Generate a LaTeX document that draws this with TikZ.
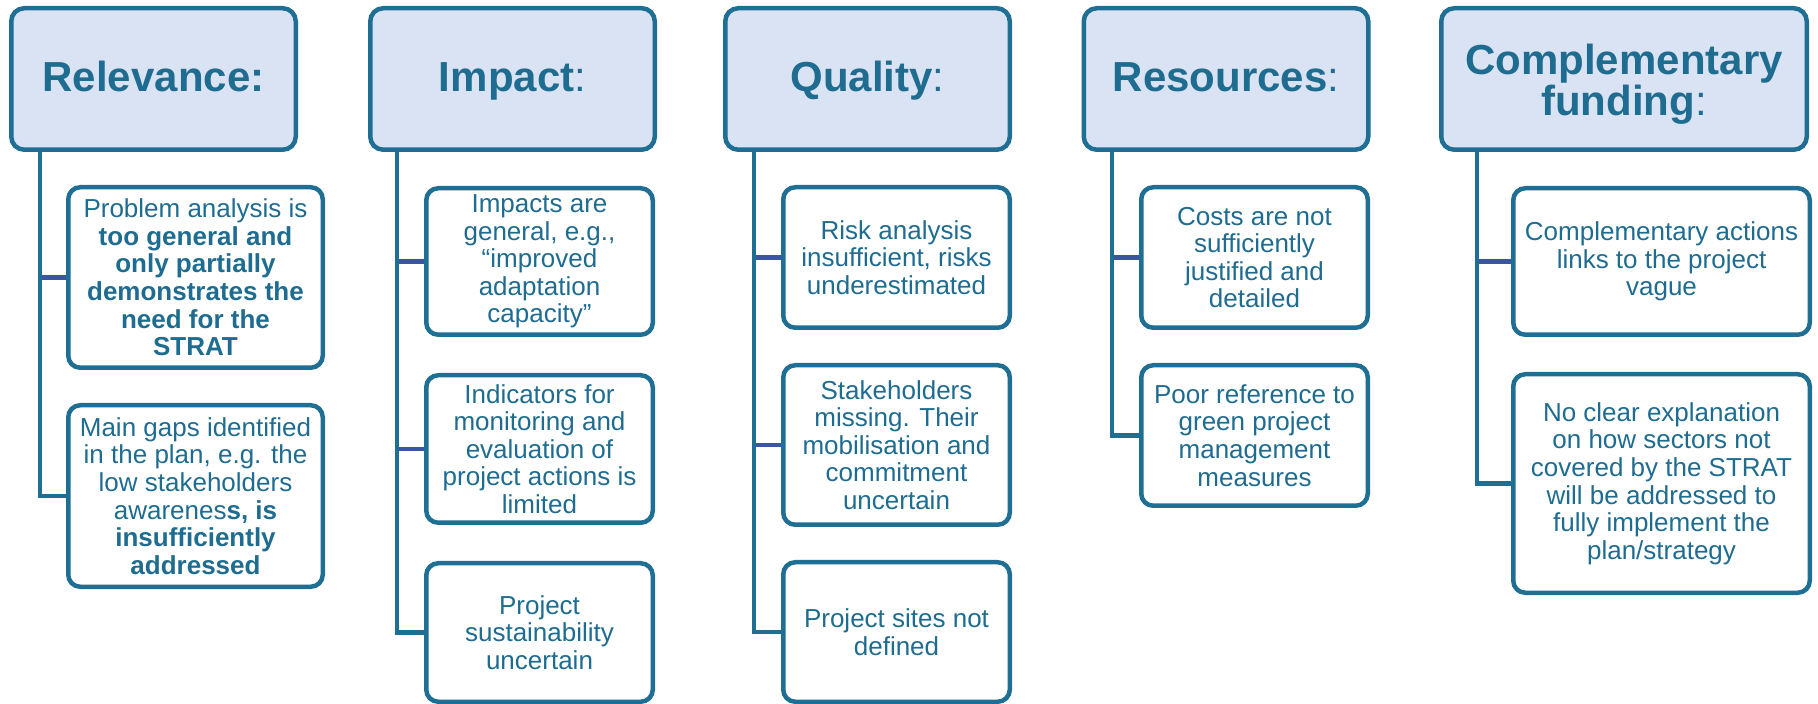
\documentclass[tikz,border=0pt]{standalone}
\usepackage{fontspec}
\setmainfont{Liberation Sans}
\definecolor{edge}{RGB}{31,110,148}
\definecolor{hfill}{RGB}{218,227,243}
\definecolor{ink}{RGB}{31,108,145}
\definecolor{branchc}{RGB}{58,86,160}
\tikzset{
  hdr/.style={draw=edge, fill=hfill, line width=2.25pt, rounded corners=6.5pt, text=ink,
    font=\fontsize{21}{20.5}\selectfont\bfseries, align=center, inner sep=0pt, minimum height=70.75pt},
  hdrone/.style={hdr, text height=13pt, text depth=0pt},
  item/.style={draw=edge, fill=white, line width=2.25pt, rounded corners=6pt, text=ink,
    font=\fontsize{13}{13.8}\selectfont, align=center, inner sep=0pt},
  trunk/.style={draw=edge, line width=2.1pt},
  branch/.style={draw=branchc, line width=2.1pt},
}
\begin{document}
\begin{tikzpicture}[x=0.5pt, y=-0.5pt]
\useasboundingbox (0,0) rectangle (1818,704);
% headers
\node[hdrone, minimum width=142.25pt] (h1) at (153.5,79) {Relevance:};
\node[hdrone, minimum width=142.25pt] (h2) at (512.5,79) {Impact\textmd{:}};
\node[hdrone, minimum width=142.25pt] (h3) at (867.5,79) {Quality\textmd{:}};
\node[hdrone, minimum width=142.25pt] (h4) at (1226,79) {Resources\textmd{:}};
\node[hdr, minimum width=182.75pt] (h5) at (1624,79) {\rule{0pt}{20pt}Complementary\\funding\textmd{:}};
% column 1
\node[item, minimum width=127.25pt, minimum height=90.25pt] (c11) at (195.5,277.5)
  {Problem analysis is\\\textbf{too general and}\\\textbf{only partially}\\\textbf{demonstrates the}\\\textbf{need for the}\\\textbf{STRAT}};
\node[item, minimum width=127.25pt, minimum height=90.75pt] (c12) at (195.5,496)
  {Main gaps identified\\in the plan, e.g. the\\low stakeholders\\awarenes\textbf{s, is}\\\textbf{insufficiently}\\\textbf{addressed}};
% column 2
\node[item, minimum width=113.25pt, minimum height=73.25pt] (c21) at (539.5,261.5)
  {Impacts are\\general, e.g.,\\“improved\\adaptation\\capacity”};
\node[item, minimum width=113.25pt, minimum height=73.75pt] (c22) at (539.5,449)
  {Indicators for\\monitoring and\\evaluation of\\project actions is\\limited};
\node[item, minimum width=113.25pt, minimum height=69.25pt] (c23) at (539.5,632.5)
  {Project\\sustainability\\uncertain};
% column 3
\node[item, minimum width=113.25pt, minimum height=70.25pt] (c31) at (896.5,257.5)
  {Risk analysis\\insufficient, risks\\underestimated};
\node[item, minimum width=113.25pt, minimum height=79.75pt] (c32) at (896.5,445)
  {Stakeholders\\missing. Their\\mobilisation and\\commitment\\uncertain};
\node[item, minimum width=113.25pt, minimum height=69.75pt] (c33) at (896.5,632)
  {Project sites not\\defined};
% column 4
\node[item, minimum width=113.25pt, minimum height=70.25pt] (c41) at (1254.5,257.5)
  {Costs are not\\sufficiently\\justified and\\detailed};
\node[item, minimum width=113.25pt, minimum height=70.25pt] (c42) at (1254.5,435.5)
  {Poor reference to\\green project\\management\\measures};
% column 5
\node[item, minimum width=148.25pt, minimum height=73.25pt] (c51) at (1661.5,261.5)
  {Complementary actions\\links to the project\\vague};
\node[item, minimum width=148.25pt, minimum height=109.25pt] (c52) at (1661.5,483.5)
  {No clear explanation\\on how sectors not\\covered by the STRAT\\will be addressed to\\fully implement the\\plan/strategy};
% trunk start points
\coordinate (v1) at (40,150);
\coordinate (v2) at (397,150);
\coordinate (v3) at (754,150);
\coordinate (v4) at (1112,150);
\coordinate (v5) at (1477,150);
% trunks
\draw[trunk] (v1) |- (c12.west);
\draw[trunk] (v2) |- (c23.west);
\draw[trunk] (v3) |- (c33.west);
\draw[trunk] (v4) |- (c42.west);
\draw[trunk] (v5) |- (c52.west);
% branches
\draw[branch] ([xshift=1pt]v1 |- c11.west) -- (c11.west);
\draw[branch] ([xshift=1pt]v2 |- c21.west) -- (c21.west);
\draw[branch] ([xshift=1pt]v2 |- c22.west) -- (c22.west);
\draw[branch] ([xshift=1pt]v3 |- c31.west) -- (c31.west);
\draw[branch] ([xshift=1pt]v3 |- c32.west) -- (c32.west);
\draw[branch] ([xshift=1pt]v4 |- c41.west) -- (c41.west);
\draw[branch] ([xshift=1pt]v5 |- c51.west) -- (c51.west);
\end{tikzpicture}
\end{document}
